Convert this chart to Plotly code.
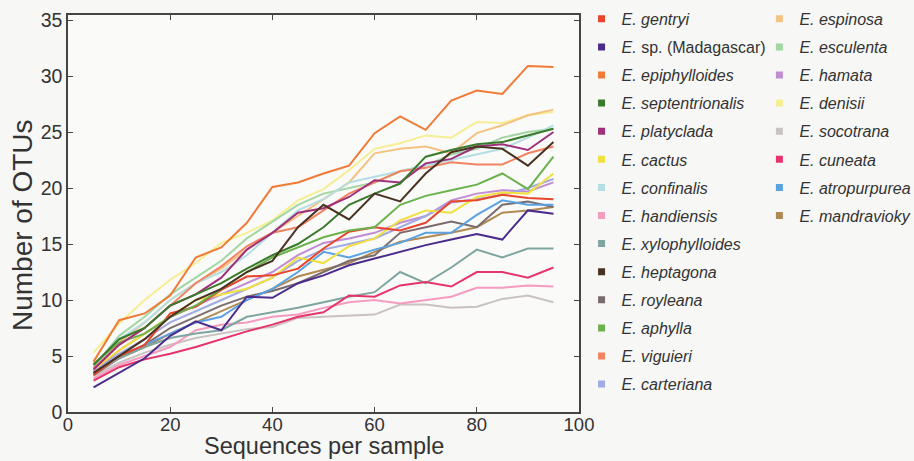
import plotly.graph_objects as go

x_seq = [5, 10, 15, 20, 25, 30, 35, 40, 45, 50, 55, 60, 65, 70, 75, 80, 85, 90, 95]

species = [
    "gentryi", "sp. (Madagascar)", "epiphylloides", "septentrionalis", "platyclada",
    "cactus", "confinalis", "handiensis", "xylophylloides", "heptagona", "royleana",
    "aphylla", "viguieri", "carteriana", "espinosa", "esculenta", "hamata", "denisii",
    "socotrana", "cuneata", "atropurpurea", "mandravioky",
]

colors = [
    "#e8452c", "#4b2c8c", "#f07a36", "#3a7a2c", "#a0307a",
    "#f0e040", "#b4dfe2", "#f59ac0", "#7fa5a0", "#4a3222", "#7a6c6c",
    "#6cb24c", "#f08462", "#a2aae2", "#f5c282", "#a2d6a2", "#c08cd2", "#f5ee92",
    "#c9c2c2", "#e6336a", "#5aa2e2", "#b08a52",
]

gentryi = [3.3, 5.0, 6.0, 8.8, 9.4, 10.9, 12.1, 12.2, 12.8, 14.6, 16.1, 16.5, 16.2, 16.9, 18.8, 18.9, 19.4, 19.1, 19.0]
madagascar = [2.2, 3.5, 4.8, 6.8, 8.1, 7.3, 10.3, 10.2, 11.5, 12.2, 13.1, 13.7, 14.3, 14.9, 15.4, 15.9, 15.4, 18.0, 17.7]
epiphylloides = [4.5, 8.2, 8.8, 10.4, 13.8, 14.7, 16.9, 20.1, 20.5, 21.3, 22.0, 24.9, 26.4, 25.2, 27.8, 28.7, 28.4, 30.9, 30.8]
septentrionalis = [4.2, 6.5, 7.5, 9.5, 10.5, 11.5, 12.8, 14.0, 15.0, 16.5, 18.5, 19.5, 20.4, 22.8, 23.4, 23.9, 24.1, 24.7, 25.3]
platyclada = [3.8, 6.0, 7.5, 9.5, 10.5, 12.0, 14.5, 16.0, 17.8, 18.2, 19.2, 20.7, 20.5, 22.2, 22.6, 23.7, 23.9, 23.4, 25.0]
cactus = [3.8, 5.5, 7.0, 8.5, 10.0, 10.5, 11.0, 12.0, 13.8, 13.3, 14.8, 15.5, 17.1, 18.0, 17.8, 19.2, 19.6, 19.5, 21.3]
confinalis = [3.8, 6.5, 8.0, 10.0, 11.5, 12.5, 14.0, 16.0, 18.0, 19.0, 20.5, 21.0, 21.5, 22.0, 22.5, 23.0, 23.5, 24.5, 25.6]
handiensis = [3.0, 4.2, 5.0, 5.8, 7.3, 7.8, 8.0, 8.5, 8.7, 9.3, 9.8, 10.0, 9.7, 10.0, 10.3, 11.1, 11.1, 11.3, 11.2]
xylophylloides = [3.4, 4.8, 5.8, 6.6, 7.0, 7.3, 8.5, 8.9, 9.3, 9.8, 10.3, 10.7, 12.5, 11.5, 12.9, 14.5, 13.8, 14.6, 14.6]
heptagona = [3.5, 5.0, 6.5, 8.5, 10.0, 11.0, 12.5, 13.5, 16.5, 18.5, 17.2, 19.5, 18.8, 21.3, 23.2, 23.7, 23.5, 22.0, 24.1]
royleana = [3.3, 4.8, 6.0, 7.5, 8.5, 9.5, 10.3, 10.8, 11.5, 12.5, 13.5, 14.0, 16.0, 16.5, 17.0, 16.5, 18.5, 18.8, 18.3]
aphylla = [4.3, 6.2, 7.0, 8.5, 9.5, 11.0, 12.5, 13.8, 14.7, 15.6, 16.2, 16.5, 18.5, 19.3, 19.8, 20.3, 21.3, 19.9, 22.8]
viguieri = [3.9, 6.0, 7.5, 9.5, 11.5, 13.0, 14.8, 16.0, 16.5, 18.0, 19.5, 20.5, 21.5, 21.8, 22.3, 22.1, 22.1, 23.1, 23.7]
carteriana = [3.6, 5.2, 6.5, 8.0, 9.0, 10.0, 11.0, 12.0, 13.5, 14.5, 15.0, 15.5, 16.5, 17.5, 18.7, 19.0, 19.4, 20.0, 20.8]
espinosa = [3.6, 6.2, 8.0, 10.0, 11.5, 12.8, 14.5, 16.0, 17.5, 19.0, 20.5, 23.1, 23.5, 23.7, 23.1, 24.9, 25.6, 26.5, 27.0]
esculenta = [4.0, 6.8, 8.5, 10.5, 12.0, 13.5, 15.5, 17.0, 18.5, 19.5, 20.0, 20.5, 21.5, 22.0, 23.0, 23.5, 24.5, 25.0, 25.3]
hamata = [3.5, 5.5, 7.0, 8.5, 9.5, 10.5, 11.5, 12.5, 14.0, 15.1, 15.5, 16.0, 16.9, 17.5, 18.9, 19.5, 19.8, 19.7, 20.5]
denisii = [5.3, 7.9, 10.0, 11.8, 13.3, 15.1, 16.0, 17.1, 18.9, 19.9, 21.6, 23.5, 24.0, 24.7, 24.5, 25.9, 25.8, 26.5, 26.8]
socotrana = [3.2, 4.4, 5.3, 6.0, 6.6, 7.0, 7.4, 7.6, 8.4, 8.5, 8.6, 8.7, 9.6, 9.6, 9.3, 9.4, 10.1, 10.4, 9.8]
cuneata = [2.8, 4.0, 4.7, 5.2, 5.8, 6.5, 7.2, 7.8, 8.5, 8.9, 10.4, 10.3, 11.3, 11.6, 11.2, 12.5, 12.5, 12.0, 12.9]
atropurpurea = [3.4, 5.0, 6.0, 7.0, 8.0, 8.5, 10.0, 11.0, 12.5, 14.3, 13.8, 14.5, 15.1, 16.0, 16.0, 17.6, 18.9, 18.5, 18.5]
mandravioky = [3.4, 4.8, 5.8, 7.0, 8.0, 9.0, 10.0, 11.0, 12.1, 12.7, 13.3, 14.3, 15.2, 15.6, 16.0, 16.5, 17.8, 18.0, 18.3]

series = [
    gentryi, madagascar, epiphylloides, septentrionalis, platyclada, cactus, confinalis,
    handiensis, xylophylloides, heptagona, royleana, aphylla, viguieri, carteriana,
    espinosa, esculenta, hamata, denisii, socotrana, cuneata, atropurpurea, mandravioky,
]

x_ticks = [0, 20, 40, 60, 80, 100]
y_ticks = [0, 5, 10, 15, 20, 25, 30, 35]

FONT = "Liberation Sans, Arial, sans-serif"
TXT = "#333333"

fig = go.Figure()

# drawing order: lighter lines first, darker on top
draw_order = [18, 7, 17, 14, 15, 6, 16, 13, 21, 10, 20, 8, 5, 0, 11, 12, 19, 4, 3, 9, 1, 2]
for i in draw_order:
    fig.add_trace(go.Scatter(
        x=x_seq, y=series[i], mode="lines",
        line=dict(color=colors[i], width=2),
        showlegend=False, hoverinfo="skip",
    ))

def label(name):
    if name.startswith("sp."):
        return "<i>E.</i> " + name
    return "<i>E. " + name + "</i>"

for i, name in enumerate(species):
    fig.add_trace(go.Scatter(
        x=[None], y=[None], mode="markers",
        marker=dict(symbol="square", size=7, color=colors[i]),
        name=label(name),
        legend="legend" if i < 14 else "legend2",
        legendgroup="g%d" % i,
    ))

legend_common = dict(
    font=dict(family=FONT, size=16, color=TXT),
    bgcolor="rgba(0,0,0,0)",
    yanchor="top", xanchor="left",
    itemwidth=30, tracegroupgap=4.3,
    maxheight=1.0,
)

fig.update_layout(
    width=914, height=461,
    margin=dict(l=68, r=335, t=15, b=49, autoexpand=False),
    paper_bgcolor="#f7f7f5",
    plot_bgcolor="#fafaf9",
    font=dict(family=FONT, color=TXT),
    legend=dict(x=1.005, y=1.033, **legend_common),
    legend2=dict(x=1.353, y=1.033, **legend_common),
    xaxis=dict(
        range=[0, 100], tickvals=x_ticks, ticktext=[str(v) for v in x_ticks],
        showgrid=False, zeroline=False,
        showline=True, linecolor="#444444", linewidth=1.5, mirror="ticks",
        ticks="inside", ticklen=5, tickcolor="#444444",
        tickfont=dict(size=18.5, family=FONT, color=TXT),
        ticklabelstandoff=-5,
        title=dict(text=""),
    ),
    yaxis=dict(
        range=[0, 35.45], tickvals=y_ticks, ticktext=[str(v) for v in y_ticks],
        showgrid=False, zeroline=False,
        showline=True, linecolor="#444444", linewidth=1.5, mirror="ticks",
        ticks="inside", ticklen=5, tickcolor="#444444",
        tickfont=dict(size=19.5, family=FONT, color=TXT),
        title=dict(text=""),
    ),
    annotations=[
        dict(text="Sequences per sample", xref="paper", yref="paper",
             x=0.5, y=-0.0856, xanchor="center", yanchor="middle", showarrow=False,
             font=dict(size=23.5, family=FONT, color=TXT)),
        dict(text="Number of OTUs", xref="paper", yref="paper", textangle=-90,
             x=-0.09, y=0.471, xanchor="center", yanchor="middle", showarrow=False,
             font=dict(size=28, family=FONT, color=TXT)),
    ],
)

fig.write_html("out.html")
